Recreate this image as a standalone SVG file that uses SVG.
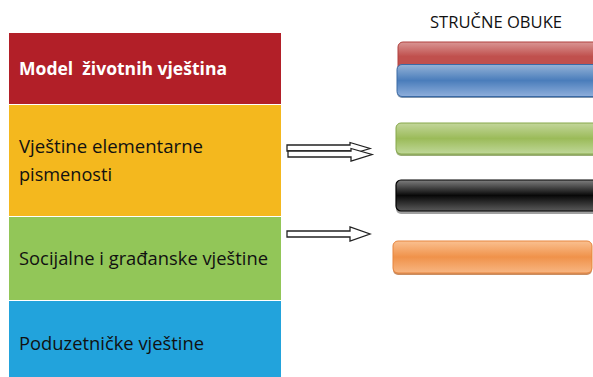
<svg xmlns="http://www.w3.org/2000/svg" width="593" height="377" viewBox="0 0 593 377">
<style>
.t{font-family:"Open Sans","Liberation Sans",sans-serif;font-size:18px;fill:#111}
.tb{font-family:"Open Sans","Liberation Sans",sans-serif;font-size:18px;font-weight:bold;fill:#fff;white-space:pre}
.arrow{fill:#fff;stroke:#222;stroke-width:1.3;stroke-linejoin:miter}
.title{font-family:"Open Sans","Liberation Sans",sans-serif;font-size:15.5px;fill:#111}
</style>
<defs>
<linearGradient id="gR" x1="0" y1="0" x2="0" y2="1"><stop offset="0" stop-color="#d99694"/><stop offset="0.45" stop-color="#c0504d"/><stop offset="1" stop-color="#c0504d"/></linearGradient>
<linearGradient id="gB" x1="0" y1="0" x2="0" y2="1"><stop offset="0" stop-color="#95b3d7"/><stop offset="0.5" stop-color="#4a7dbb"/><stop offset="1" stop-color="#8eaedb"/></linearGradient>
<linearGradient id="gG" x1="0" y1="0" x2="0" y2="1"><stop offset="0" stop-color="#c3d69b"/><stop offset="0.5" stop-color="#9bbb59"/><stop offset="1" stop-color="#c0d89a"/></linearGradient>
<linearGradient id="gK" x1="0" y1="0" x2="0" y2="1"><stop offset="0" stop-color="#7f7f7f"/><stop offset="0.5" stop-color="#080808"/><stop offset="1" stop-color="#5a5a5a"/></linearGradient>
<linearGradient id="gO" x1="0" y1="0" x2="0" y2="1"><stop offset="0" stop-color="#fac090"/><stop offset="0.5" stop-color="#f0924a"/><stop offset="1" stop-color="#f8b682"/></linearGradient>
</defs>
<rect width="593" height="377" fill="#fff"/>
<g id="node-model">
<rect x="9" y="33" width="272" height="71" fill="#b21f28"/>
<text class="tb" x="19" y="75" textLength="208" lengthAdjust="spacingAndGlyphs" xml:space="preserve">Model  životnih vještina</text>
</g>
<g id="node-elementarne">
<rect x="9" y="105" width="272" height="111" fill="#f4b81e"/>
<text class="t" x="19" y="153" textLength="184" lengthAdjust="spacingAndGlyphs">Vještine elementarne</text>
<text class="t" x="19" y="181" textLength="93" lengthAdjust="spacingAndGlyphs">pismenosti</text>
</g>
<g id="node-socijalne">
<rect x="9" y="217" width="272" height="83" fill="#92c658"/>
<text class="t" x="19" y="265" textLength="249" lengthAdjust="spacingAndGlyphs">Socijalne i građanske vještine</text>
</g>
<g id="node-poduzetnicke">
<rect x="9" y="301" width="272" height="76" fill="#22a3dc"/>
<text class="t" x="19" y="350" textLength="185" lengthAdjust="spacingAndGlyphs">Poduzetničke vještine</text>
</g>
<g id="connectors">
<polygon class="arrow" points="287,145 350,145 350,142.5 370,148.5 350,154.5 350,151 287,151"/>
<polygon class="arrow" points="288,151 351,151 351,148.5 372,154.5 351,161 351,157 288,157"/>
<polygon class="arrow" points="287,231 350,231 350,227 370,234 350,241 350,237 287,237"/>
</g>
<g id="title">
<text class="title" x="496" y="28" text-anchor="middle" textLength="132" lengthAdjust="spacingAndGlyphs">STRUČNE OBUKE</text>
</g>
<g id="bar-red">
<rect x="398" y="42" width="210" height="32" rx="5" fill="url(#gR)" stroke="#b0413e" stroke-width="1"/>
</g>
<g id="bar-blue">
<rect x="397" y="66" width="210" height="32" rx="5" fill="#2c4d75" opacity="0.6"/>
<rect x="397" y="64.5" width="210" height="32" rx="5" fill="url(#gB)" stroke="#3a6aa5" stroke-width="1"/>
</g>
<g id="bar-green">
<rect x="396" y="125" width="210" height="31" rx="5" fill="#6f8a3c" opacity="0.7"/>
<rect x="396" y="123" width="210" height="31" rx="5" fill="url(#gG)" stroke="#86a84a" stroke-width="1"/>
</g>
<g id="bar-black">
<rect x="396" y="183" width="210" height="31" rx="5" fill="#777" opacity="0.7"/>
<rect x="396" y="180" width="210" height="31" rx="5" fill="url(#gK)" stroke="#000" stroke-width="1.2"/>
</g>
<g id="bar-orange">
<rect x="393" y="243" width="199" height="32" rx="5" fill="#b35c1e" opacity="0.7"/>
<rect x="393" y="241" width="199" height="32" rx="5" fill="url(#gO)" stroke="#e6853e" stroke-width="1"/>
</g>
</svg>
